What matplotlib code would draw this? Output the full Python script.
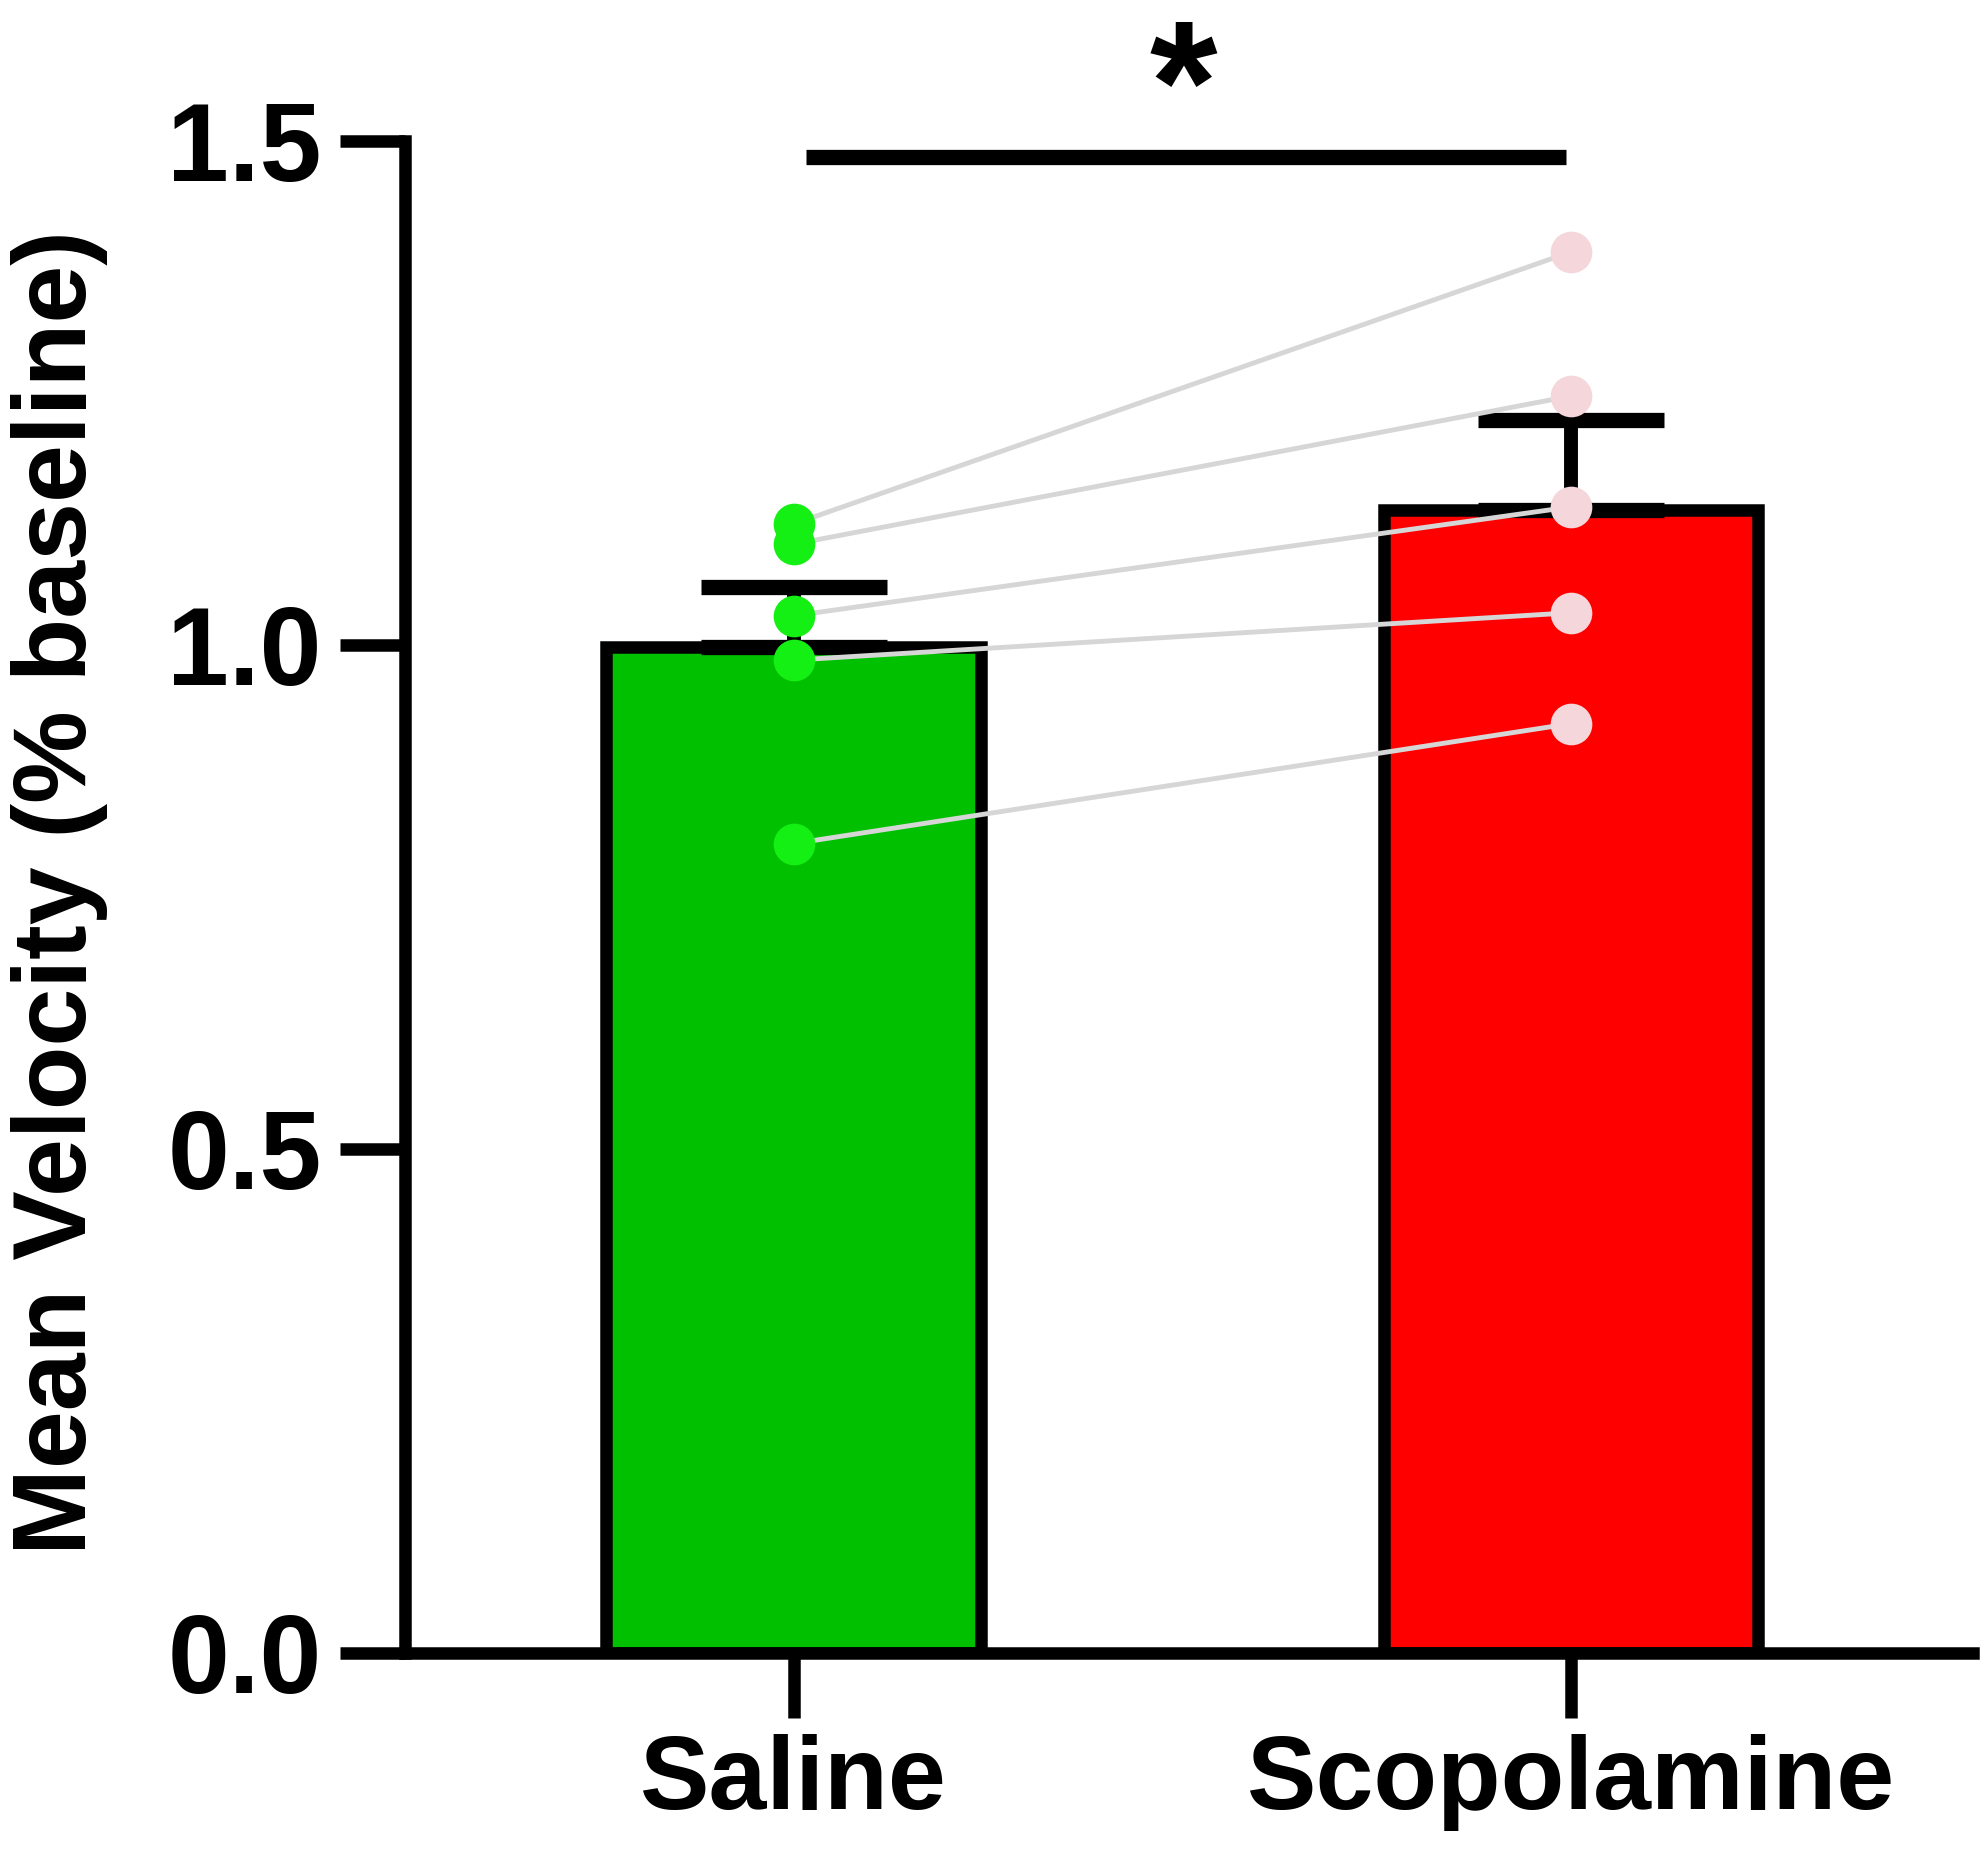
import matplotlib
matplotlib.use("Agg")
import matplotlib.pyplot as plt

# ---- data ----
groups = ["Saline", "Scopolamine"]
bar_means = [0.998, 1.134]
bar_sem = [0.060, 0.089]
saline_pts = [1.120, 1.100, 1.029, 0.985, 0.803]
scop_pts = [1.390, 1.247, 1.137, 1.032, 0.922]
yticks = [0.0, 0.5, 1.0, 1.5]
ytick_labels = ["0.0", "0.5", "1.0", "1.5"]
ylabel = "Mean Velocity (% baseline)"
sig_text = "*"

bar_colors = ["#00C000", "#FF0000"]
pt_colors = ["#14F014", "#F4D6DB"]

plt.rcParams['font.family'] = ['Liberation Sans', 'DejaVu Sans']

DPI = 100
fig = plt.figure(figsize=(19.83, 18.64), dpi=DPI)
ax = fig.add_axes([0.2042, 0.1132, 0.99496 - 0.2042, 0.92436 - 0.1132])

x = [0, 1]
ax.bar(x, bar_means, width=0.482, color=bar_colors, edgecolor="black",
       linewidth=9, zorder=2)

ax.errorbar(x, bar_means, yerr=[[0, 0], bar_sem], fmt="none", ecolor="black",
            elinewidth=10, capsize=67, capthick=11, zorder=3)

for a, b in zip(saline_pts, scop_pts):
    ax.plot([0, 1], [a, b], color="#D6D6D6", linewidth=3.5, zorder=4,
            solid_capstyle="round")

ax.plot([0] * len(saline_pts), saline_pts, "o", color=pt_colors[0],
        markersize=30, markeredgewidth=0, zorder=5)
ax.plot([1] * len(scop_pts), scop_pts, "o", color=pt_colors[1],
        markersize=30, markeredgewidth=0, zorder=5)

# significance line and asterisk
ax.plot([0.016, 0.993], [1.484, 1.484], color="black", linewidth=11,
        solid_capstyle="butt", clip_on=False, zorder=6)
ax.text(0.501, 1.499, sig_text, ha="center", va="baseline", fontsize=125,
        fontweight="bold", clip_on=False)

ax.set_xlim(-0.5, 1.517)
ax.set_ylim(0, 1.5)

for s in ["top", "right"]:
    ax.spines[s].set_visible(False)
for s in ["left", "bottom"]:
    ax.spines[s].set_linewidth(9)
    ax.spines[s].set_capstyle("projecting")

ax.set_yticks(yticks)
ax.set_yticklabels(ytick_labels, fontsize=80, fontweight="bold")
ax.set_xticks(x)
ax.set_xticklabels(groups, fontsize=75, fontweight="bold")
ax.tick_params(axis="y", length=47, width=9, pad=13)
ax.tick_params(axis="x", length=47, width=9, pad=11)

fig.text(0.030, 0.521, ylabel, rotation=90, ha="center", va="center",
         fontsize=75, fontweight="bold")

fig.savefig("out.png", dpi=DPI, facecolor="white")
